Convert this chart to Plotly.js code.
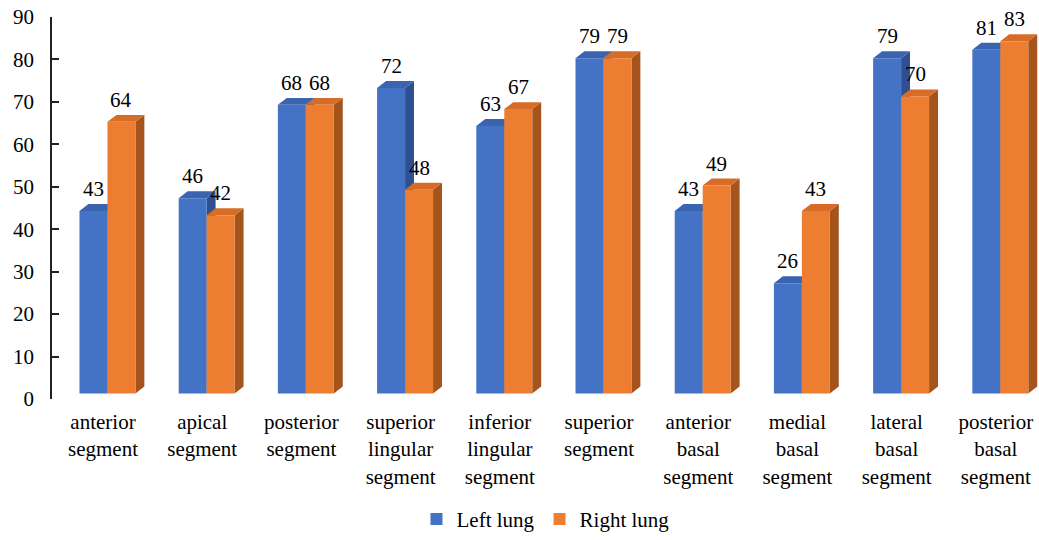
<!DOCTYPE html>
<html>
<head>
<meta charset="utf-8">
<script src="https://cdn.plot.ly/plotly-3.0.1.min.js"></script>
</head>
<body style="margin:0">
<div id="chart" style="width:1039px;height:540px"></div>
<script>
// ---- data ----
const categories = ["anterior<br>segment", "apical<br>segment", "posterior<br>segment", "superior<br>lingular<br>segment", "inferior<br>lingular<br>segment", "superior<br>segment", "anterior<br>basal<br>segment", "medial<br>basal<br>segment", "lateral<br>basal<br>segment", "posterior<br>basal<br>segment"];
const leftLung  = [43, 46, 68, 72, 63, 79, 43, 26, 79, 81];
const rightLung = [64, 42, 68, 48, 67, 79, 49, 43, 70, 83];
const seriesNames = ["Left lung", "Right lung"];

// ---- style ----
const fontFam = "Times New Roman";
const frontColors = ["#4472C4", "#ED7D31"];
const topColors   = ["#3B64B0", "#D66C25"];
const sideColors  = ["#2E5090", "#A5541C"];
const barW = 0.282;
const groupShift = 0.045;
const offs = [groupShift - barW, groupShift];
const lift = 1.3;
const depthX = 0.09, depthY = 1.64;

const xs = categories.map((_, i) => i);
const seriesVals = [leftLung, rightLung];

const traces = seriesVals.map((vals, s) => ({
  type: 'bar', x: xs, y: vals, base: vals.map(() => lift),
  offset: offs[s], width: barW, name: seriesNames[s],
  marker: {color: frontColors[s], line: {width: 0}},
  hoverinfo: 'y'
}));

const shapeList = [];
const annList = [];
seriesVals.forEach((vals, s) => {
  vals.forEach((v, i) => {
    const x0 = i + offs[s], x1 = x0 + barW;
    const b = lift, t = lift + v;
    shapeList.push({type: 'path', xref: 'x', yref: 'y', layer: 'below', line: {width: 0}, fillcolor: sideColors[s],
      path: `M${x1},${b} L${x1 + depthX},${b + depthY} L${x1 + depthX},${t + depthY} L${x1},${t} Z`});
    shapeList.push({type: 'path', xref: 'x', yref: 'y', layer: 'below', line: {width: 0}, fillcolor: topColors[s],
      path: `M${x0},${t} L${x1},${t} L${x1 + depthX},${t + depthY} L${x0 + depthX},${t + depthY} Z`});
    annList.push({x: x0 + barW / 2, y: t + depthY, xref: 'x', yref: 'y', text: String(v), showarrow: false,
      yanchor: 'bottom', yshift: 1, font: {family: fontFam, size: 21, color: '#000'}});
  });
});

const layout = {
  width: 1039, height: 540,
  font: {family: fontFam, size: 21, color: '#000'},
  margin: {l: 52, r: 0, t: 17, b: 139},
  paper_bgcolor: '#fff', plot_bgcolor: '#fff',
  barmode: 'overlay',
  showlegend: true,
  legend: {orientation: 'h', x: 0.5, xanchor: 'center', y: -0.315, yanchor: 'middle',
    font: {family: fontFam, size: 21, color: '#000'}, itemwidth: 30, traceorder: 'normal'},
  xaxis: {range: [-0.514, 9.435], tickmode: 'array', tickvals: xs, ticktext: categories,
    showgrid: false, zeroline: false, showline: false, ticks: '', ticklabelstandoff: 8,
    tickfont: {family: fontFam, size: 21, color: '#000'}},
  yaxis: {range: [0, 90], dtick: 10, tick0: 0, showgrid: false, zeroline: false,
    showline: true, linecolor: '#222', linewidth: 1.5, ticks: 'inside', ticklen: 7, tickcolor: '#222', tickwidth: 1.5,
    ticklabelstandoff: 12,
    tickfont: {family: fontFam, size: 21, color: '#000'}},
  shapes: shapeList,
  annotations: annList
};

Plotly.newPlot('chart', traces, layout, {displayModeBar: false});
</script>
</body>
</html>
